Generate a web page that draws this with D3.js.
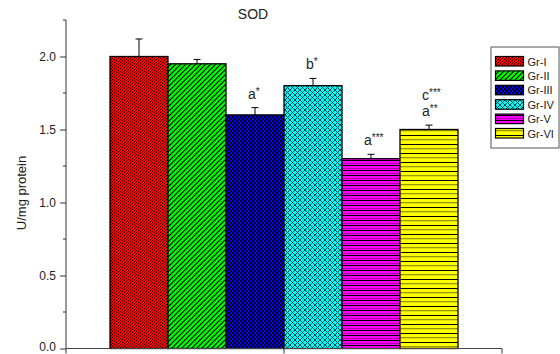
<!DOCTYPE html>
<html><head><meta charset="utf-8">
<script src="https://cdn.jsdelivr.net/npm/d3@7"></script>
<style>body{margin:0;background:#fff}svg{display:block;font-family:Arial,"Liberation Sans",sans-serif}</style>
</head><body><svg id="c" width="560" height="354"></svg>
<script>
const groups = ["Gr-I","Gr-II","Gr-III","Gr-IV","Gr-V","Gr-VI"];
const values = [2.00,1.95,1.60,1.80,1.30,1.50];
const errors = [0.12,0.03,0.05,0.05,0.03,0.03];
const sigLetters = [[],[],[["a","*"]],[["b","*"]],[["a","***"]],[["c","***"],["a","**"]]];
const colors = ["#ff0000","#00ff00","#0000ff","#00ffff","#ff00ff","#ffff00"];
const yTicks = [0.0,0.5,1.0,1.5,2.0];
const yMinor = [0.25,0.75,1.25,1.75,2.25];

const svg = d3.select("#c");
const L=66, R=502, T=20, B=348.5;
const y = d3.scaleLinear().domain([0,2.25]).range([B,T]);
const x = d3.scaleBand().domain(groups).range([110,458]).padding(0);

const defs = svg.append("defs");
function pat(id,w,h,bg,draw){
  const p=defs.append("pattern").attr("id",id).attr("patternUnits","userSpaceOnUse").attr("width",w).attr("height",h);
  p.append("rect").attr("width",w).attr("height",h).attr("fill",bg);
  draw(p);
}
pat("p0",3,3,colors[0],p=>{p.append("path").attr("d","M-1,1 L1,-1 M0,3 L3,0 M2,4 L4,2").attr("stroke","#000").attr("stroke-width",0.8);});
pat("p1",5,5,colors[1],p=>{p.append("path").attr("d","M-1,1 L1,-1 M0,5 L5,0 M4,6 L6,4").attr("stroke","#000").attr("stroke-width",1.2);});
pat("p2",4,4,colors[2],p=>{p.append("rect").attr("x",0).attr("y",0).attr("width",2).attr("height",2).attr("fill","#000");p.append("rect").attr("x",2).attr("y",2).attr("width",2).attr("height",2).attr("fill","#000");});
pat("p3",5,5,colors[3],p=>{p.append("path").attr("d","M0,0 L5,5 M5,0 L0,5").attr("stroke","#000").attr("stroke-width",0.9).attr("opacity",0.8);});
pat("p4",5,5,colors[4],p=>{p.append("rect").attr("y",0).attr("width",5).attr("height",1).attr("fill","#000");p.append("rect").attr("y",3).attr("width",5).attr("height",1).attr("fill","#b000b0");});
pat("p5",9,9,colors[5],p=>{p.append("rect").attr("y",0).attr("width",9).attr("height",1).attr("fill","#000");p.append("rect").attr("y",4).attr("width",9).attr("height",1.3).attr("fill","#999900");});

svg.selectAll("rect.bar").data(groups).enter().append("rect")
  .attr("x",d=>x(d)).attr("width",x.bandwidth())
  .attr("y",(d,i)=>y(values[i])).attr("height",(d,i)=>y(0)-y(values[i]))
  .attr("fill",(d,i)=>`url(#p${i})`).attr("stroke","#000").attr("stroke-width",1.3);

groups.forEach((g,i)=>{
  const cx=x(g)+x.bandwidth()/2;
  svg.append("line").attr("x1",cx).attr("x2",cx).attr("y1",y(values[i])).attr("y2",y(values[i]+errors[i])).attr("stroke","#000").attr("stroke-width",1);
  svg.append("line").attr("x1",cx-3.5).attr("x2",cx+3.5).attr("y1",y(values[i]+errors[i])).attr("y2",y(values[i]+errors[i])).attr("stroke","#000").attr("stroke-width",1);
  const labs=sigLetters[i];
  labs.forEach((lb,k)=>{
    const base=y(values[i]+errors[i]) - 9 - (labs.length-1-k)*16;
    const t=svg.append("text").attr("x",cx-7).attr("y",base).attr("font-size",14).attr("fill","#222");
    t.append("tspan").text(lb[0]);
    t.append("tspan").attr("font-size",10).attr("dy",-4).text(lb[1]);
  });
});

const ya=svg.append("g").attr("transform",`translate(${L},0)`)
  .call(d3.axisLeft(y).tickValues(yTicks).tickFormat(d3.format(".1f")).tickSize(6).tickSizeOuter(0));
ya.select(".domain").attr("stroke","#333").attr("d",`M0,${B}V${T}`);
ya.selectAll(".tick line").attr("stroke","#333");
ya.selectAll(".tick text").attr("font-size",12).attr("fill","#222").attr("dx",-1)
  .attr("dy",d=>d===0?"0.15em":"0.32em");
svg.append("g").attr("transform",`translate(${L},0)`).selectAll("line").data(yMinor).enter().append("line")
  .attr("x1",-3).attr("x2",0).attr("y1",d=>y(d)).attr("y2",d=>y(d)).attr("stroke","#333");
svg.append("line").attr("x1",L).attr("x2",R).attr("y1",B).attr("y2",B).attr("stroke","#444").attr("stroke-width",1.2);
[L,(L+R)/2,R].forEach(v=>svg.append("line").attr("x1",v).attr("x2",v).attr("y1",B).attr("y2",B+5).attr("stroke","#333"));

svg.append("text").attr("x",253).attr("y",19).attr("text-anchor","middle").attr("font-size",14).attr("fill","#222").text("SOD");
svg.append("text").attr("transform",`translate(26,193) rotate(-90)`).attr("text-anchor","middle").attr("font-size",13).attr("fill","#222").text("U/mg protein");

const lg=svg.append("g");
lg.append("rect").attr("x",491).attr("y",47).attr("width",68).attr("height",101).attr("fill","#fff").attr("stroke","#555").attr("stroke-width",1);
groups.forEach((g,i)=>{
  const yy=56.5+i*14.4;
  lg.append("rect").attr("x",495.5).attr("y",yy).attr("width",28).attr("height",9.5).attr("fill",`url(#p${i})`).attr("stroke","#000").attr("stroke-width",1.2);
  lg.append("text").attr("x",527.5).attr("y",yy+9).attr("font-size",11).attr("fill","#222").text(g);
});
</script></body></html>
